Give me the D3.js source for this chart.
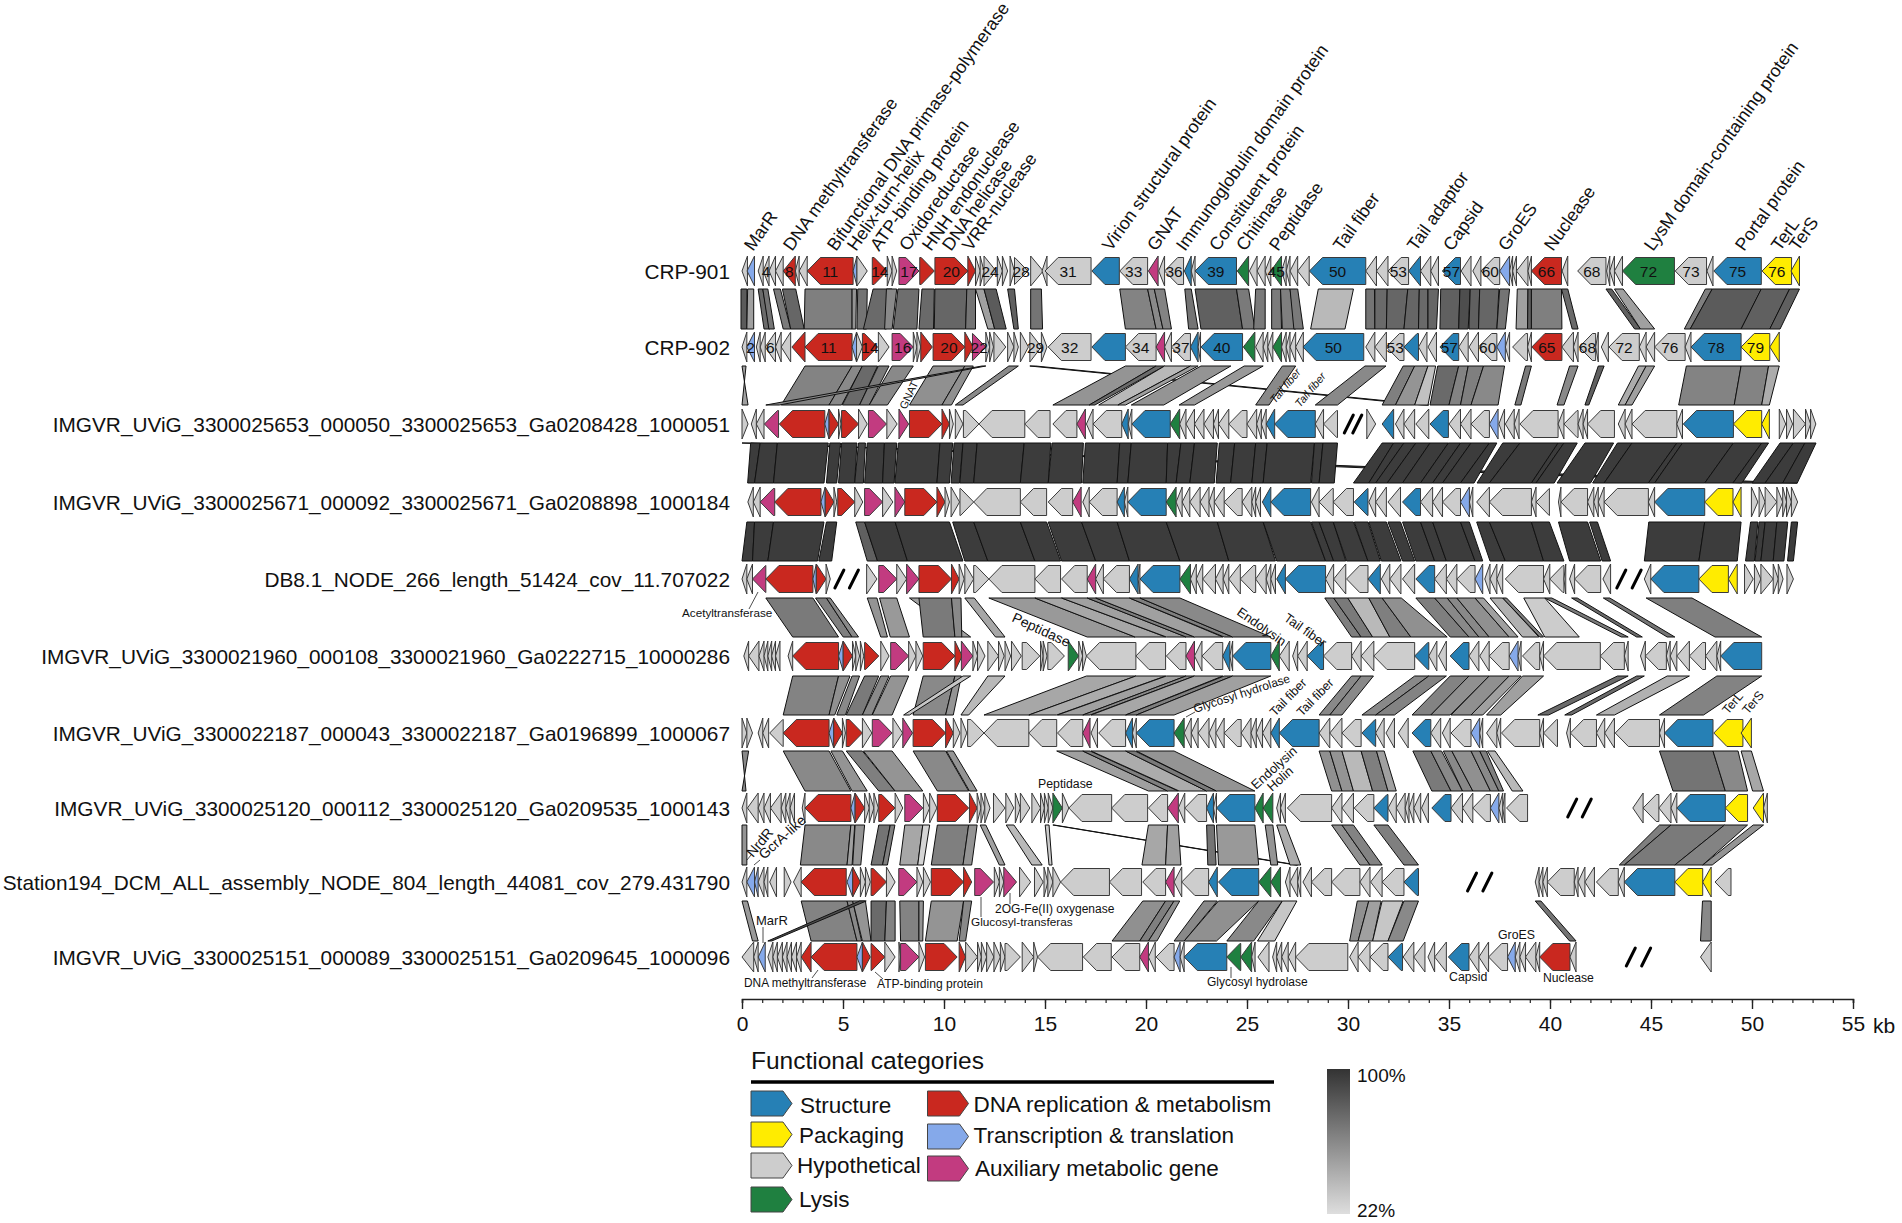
<!DOCTYPE html>
<html>
<head>
<meta charset="utf-8">
<script src="https://cdnjs.cloudflare.com/ajax/libs/d3/7.8.5/d3.min.js"></script>
<style>
  html, body { margin: 0; background: #fff; }
  text { font-family: "Liberation Sans", Arial, sans-serif; fill: #111; }
</style>
</head>
<body>
<svg id="chart" width="1902" height="1223"></svg>
<script>
// Genome comparison: gene arrows per genome + identity ribbons between neighbours
// Gene = [tail kb, tip kb, category, number]; tip < tail points left

const h = 'h', b = 'b', y = 'y', g = 'g', r = 'r', l = 'l', m = 'm';

const rowNames = ['CRP-901', 'CRP-902',
  'IMGVR_UViG_3300025653_000050_3300025653_Ga0208428_1000051',
  'IMGVR_UViG_3300025671_000092_3300025671_Ga0208898_1000184',
  'DB8.1_NODE_266_length_51424_cov_11.707022',
  'IMGVR_UViG_3300021960_000108_3300021960_Ga0222715_10000286',
  'IMGVR_UViG_3300022187_000043_3300022187_Ga0196899_1000067',
  'IMGVR_UViG_3300025120_000112_3300025120_Ga0209535_1000143',
  'Station194_DCM_ALL_assembly_NODE_804_length_44081_cov_279.431790',
  'IMGVR_UViG_3300025151_000089_3300025151_Ga0209645_1000096'];

const genes1 = [[.27,0,h],[.62,.25,l],[1.05,.8,h],[1.34,1.05,h,'4'],[1.66,1.34,h],[2.04,1.66,h],[2.64,2.04,r,'8'],[2.83,2.64,h],[3.23,2.83,h],[5.5,3.23,r,'11'],[5.69,5.5,l],[5.69,6.2,h],[6.45,7.19,r,'14'],[7.19,7.43,h],[7.43,7.66,h],[7.77,8.76,m,'17'],[8.8,9.52,r],[9.55,11.18,r,'20'],[11.18,11.56,r],[11.56,11.79,h],[11.79,11.98,h],[11.98,12.58,h,'24'],[12.64,12.89,h],[12.89,13.15,h],[13.27,13.49,h],[13.49,14.15,h,'28'],[14.29,14.91,h],[15.1,14.85,h],[17.28,15.0,h,'31'],[18.68,17.32,b],[20.08,18.7,h,'33'],[20.6,20.12,m],[20.92,20.63,h],[21.86,20.92,h,'36'],[22.24,21.9,b],[22.43,22.24,h],[24.48,22.43,b,'39'],[25.08,24.52,g],[25.5,25.12,h],[25.9,25.5,h],[26.18,25.9,h],[26.71,26.18,g,'45'],[26.94,26.71,h],[27.13,26.94,h],[27.51,27.13,h],[28.08,27.51,h],[30.88,28.09,b,'50'],[31.41,30.88,h],[31.98,31.41,h],[33.0,31.98,h,'53'],[33.59,33.0,b],[34.1,33.59,h],[34.48,34.1,h],[35.57,34.67,b,'57'],[36.09,35.6,h],[36.58,36.18,h],[37.51,36.58,h,'60'],[38.0,37.51,l],[38.15,38.0,h],[38.34,38.15,h],[38.91,38.34,h],[39.08,38.91,h],[40.57,39.08,r,'66'],[40.88,40.6,h],[42.77,41.37,h,'68'],[42.96,42.8,h],[43.19,42.96,h],[43.59,43.19,h],[46.16,43.59,g,'72'],[47.75,46.2,h,'73'],[48.07,47.77,h],[50.46,48.11,b,'75'],[51.96,50.5,y,'76'],[52.35,51.93,y]];

const genes2 = [[.24,0,h],[.62,.24,l,'2'],[.9,.71,h],[1.15,.9,h],[1.66,1.15,h,'6'],[1.94,1.66,h],[2.41,1.94,h],[3.12,2.47,r],[5.45,3.12,r,'11'],[5.67,5.45,l],[5.67,5.96,h],[5.96,6.71,r,'14'],[6.75,7.28,h],[7.43,8.48,m,'16'],[8.48,8.66,h],[8.66,8.85,h],[8.85,9.42,r],[9.46,11.03,r,'20'],[11.03,11.45,r],[11.41,12.07,m,'22'],[12.07,12.26,h],[12.26,12.45,h],[12.47,13.06,h],[13.15,13.46,h],[13.46,13.68,h],[13.78,14.18,h],[14.25,14.82,h,'29'],[14.82,15.1,h],[17.28,15.16,h,'32'],[18.98,17.32,b],[20.5,18.98,h,'34'],[20.92,20.5,m],[21.26,20.92,h],[22.2,21.26,h,'37'],[22.58,22.2,b],[22.7,22.58,h],[24.78,22.72,b,'40'],[25.39,24.82,g],[25.8,25.43,h],[26.03,25.8,h],[26.28,26.03,h],[26.71,26.28,g],[26.94,26.71,h],[27.13,26.94,h],[27.41,27.13,h],[27.79,27.41,h],[30.78,27.77,b,'50'],[31.33,30.88,h],[31.9,31.33,h],[32.77,31.9,h,'53'],[33.49,32.77,b],[33.91,33.49,h],[34.38,33.96,h],[35.48,34.55,b,'57'],[35.95,35.48,h],[36.46,35.99,h],[37.37,36.46,h,'60'],[37.79,37.37,l],[38.0,37.79,h],[38.89,38.15,h],[39.08,38.89,h],[40.59,39.1,r,'65'],[41.16,40.59,h],[41.39,41.16,h],[42.26,41.45,h,'68'],[42.39,42.26,h],[42.89,42.54,h],[44.42,42.92,h,'72'],[44.76,44.42,h],[45.18,44.76,h],[46.69,45.18,h,'76'],[46.98,46.69,h],[49.46,46.98,b,'78'],[50.88,49.46,y,'79'],[51.35,50.88,y]];

const genes3 = [[0,.3,h],[.71,.46,h],[1.09,.71,h],[1.81,1.11,m],[4.1,1.85,r],[4.31,4.1,l],[4.31,4.78,r],[4.78,4.9,h],[4.93,5.77,r],[5.77,6.2,h],[6.26,7.15,m],[7.17,7.68,h],[7.77,8.25,m],[8.29,9.9,r],[9.9,10.27,r],[10.27,10.46,h],[10.56,10.94,h],[10.96,11.73,h],[14.0,11.73,h],[15.25,14.0,h],[16.58,15.39,h],[17.0,16.58,m],[17.38,17.05,h],[18.8,17.38,h],[19.12,18.8,b],[19.3,19.12,h],[21.2,19.3,b],[21.67,21.2,g],[21.98,21.67,h],[22.4,21.98,h],[22.87,22.4,h],[23.34,22.87,h],[23.59,23.34,h],[24.1,23.59,h],[25.0,24.1,h],[25.48,25.0,h],[25.71,25.48,h],[25.95,25.71,h],[26.37,25.95,b],[28.38,26.37,b],[28.79,28.38,h],[29.48,28.79,h],[30.93,31.37,h],[32.26,31.69,b],[32.77,32.35,h],[33.3,32.77,h],[34.0,33.36,h],[34.97,34.06,b],[35.57,35.0,h],[36.09,35.57,h],[37.0,36.09,h],[37.43,37.0,l],[37.75,37.47,h],[38.23,37.79,h],[38.47,38.23,h],[40.4,38.51,h],[40.69,40.4,h],[41.39,40.69,h],[41.64,41.39,h],[41.86,41.64,h],[43.19,41.86,h],[43.72,43.38,h],[44.06,43.72,h],[46.28,44.06,h],[46.56,46.28,h],[49.08,46.6,b],[50.48,49.08,y],[50.86,50.48,y],[51.35,51.67,h],[51.71,52.01,h],[52.05,52.65,h],[52.65,52.9,h],[52.9,53.16,h]];

const genes4 = [[.56,.29,h],[.9,.56,h],[1.62,.9,m],[3.91,1.62,r],[4.12,3.91,l],[4.12,4.55,r],[4.55,4.69,h],[4.74,5.58,r],[5.58,5.98,h],[6.07,6.96,m],[6.96,7.47,h],[7.57,8.06,m],[8.06,9.65,r],[9.65,10.05,r],[10.05,10.27,h],[10.35,10.77,h],[10.79,11.47,h],[13.78,11.47,h],[15.08,13.78,h],[16.37,15.16,h],[16.79,16.37,m],[17.19,16.87,h],[18.57,17.19,h],[18.93,18.57,b],[19.1,18.93,h],[21.0,19.1,b],[21.49,21.0,g],[21.79,21.49,h],[22.17,21.79,h],[22.68,22.17,h],[23.12,22.68,h],[23.38,23.12,h],[23.87,23.38,h],[24.76,23.87,h],[25.24,24.76,h],[25.43,25.24,h],[25.67,25.43,h],[26.18,25.76,b],[28.15,26.18,b],[28.57,28.19,h],[29.27,28.57,h],[30.27,29.27,h],[30.99,30.31,b],[31.37,31.03,h],[31.9,31.37,h],[32.6,31.98,h],[33.59,32.7,b],[34.19,33.59,h],[34.68,34.19,h],[35.57,34.68,h],[36.01,35.57,l],[36.18,36.01,h],[37.0,36.37,h],[39.08,37.0,h],[39.31,39.08,h],[39.97,39.31,h],[40.54,40.42,h],[41.86,40.54,h],[42.17,41.86,h],[42.39,42.17,h],[42.68,42.39,h],[44.87,42.68,h],[45.18,44.87,h],[47.66,45.18,b],[49.06,47.66,y],[49.46,49.06,y],[49.97,50.29,h],[50.35,50.65,h],[50.65,51.23,h],[51.23,51.52,h],[51.52,51.71,h],[51.71,51.95,h],[51.95,52.26,h]];

const genes5 = [[.24,0,h],[.52,.24,h],[1.18,.52,m],[3.51,1.18,r],[3.68,3.51,l],[3.68,4.16,r],[4.16,4.37,h],[6.17,6.68,h],[6.77,7.66,m],[7.66,8.15,h],[8.15,8.76,m],[8.76,10.37,r],[10.37,10.75,r],[10.75,11.0,h],[11.03,11.47,h],[11.47,12.22,h],[14.5,12.22,h],[15.77,14.5,h],[17.09,15.82,h],[17.51,17.09,m],[17.89,17.51,h],[19.18,17.89,h],[19.61,19.18,b],[19.7,19.61,h],[21.68,19.7,b],[22.2,21.68,g],[22.49,22.2,h],[22.81,22.49,h],[23.44,22.81,h],[23.82,23.44,h],[24.1,23.82,h],[24.67,24.1,h],[25.43,24.67,h],[25.95,25.43,h],[26.18,25.95,h],[26.41,26.18,h],[26.9,26.47,b],[28.89,26.9,b],[29.29,28.89,h],[29.89,29.29,h],[30.99,29.93,h],[31.6,30.99,b],[32.07,31.65,h],[32.62,32.07,h],[33.3,32.7,h],[34.29,33.36,b],[34.87,34.29,h],[35.39,34.87,h],[36.29,35.39,h],[36.67,36.29,l],[37.03,36.77,h],[37.37,37.03,h],[37.66,37.37,h],[39.68,37.79,h],[39.99,39.68,h],[40.69,39.99,h],[40.78,40.69,h],[41.22,40.97,h],[42.51,41.22,h],[43.0,42.62,h],[44.99,44.67,h],[47.37,44.99,b],[48.83,47.37,y],[49.27,48.83,y],[49.63,50.06,h],[50.12,50.44,h],[50.44,51.05,h],[51.05,51.3,h],[51.3,51.54,h],[51.73,52.05,h]];

const genes6 = [[.33,.09,h],[.84,.33,h],[1.09,.84,h],[1.28,1.09,h],[1.47,1.28,h],[1.66,1.47,h],[1.88,1.66,h],[2.51,2.28,h],[4.78,2.51,r],[5.01,4.78,l],[5.01,5.47,r],[5.47,5.63,h],[5.63,5.82,h],[5.86,6.03,h],[6.07,6.77,r],[6.87,7.28,h],[7.36,8.25,m],[8.25,8.61,h],[8.61,8.95,h],[8.97,10.54,r],[10.54,10.9,r],[10.86,11.43,m],[11.43,11.66,h],[11.66,12.03,h],[12.17,12.7,h],[12.7,12.98,h],[13.02,13.3,h],[13.34,13.83,h],[13.87,14.74,h],[14.78,14.91,h],[14.91,15.1,h],[15.14,15.96,h],[16.15,16.67,g],[16.67,16.86,h],[16.86,17.05,h],[19.5,17.05,h],[20.97,19.5,h],[21.98,21.01,h],[22.4,21.98,m],[22.77,22.4,h],[23.8,22.77,h],[24.15,23.8,b],[24.29,24.15,h],[26.18,24.29,b],[26.6,26.18,g],[27.09,26.6,h],[27.51,27.26,h],[27.98,27.51,h],[28.79,27.98,b],[30.18,28.79,h],[30.65,30.18,h],[31.28,30.65,h],[33.3,31.28,h],[34.0,33.3,b],[34.4,34.0,h],[34.87,34.48,h],[35.99,35.06,b],[36.48,35.99,h],[36.99,36.52,h],[37.98,36.99,h],[38.42,37.98,l],[38.57,38.42,h],[39.49,38.64,h],[39.68,39.49,h],[42.49,39.68,h],[43.68,42.49,h],[43.87,43.68,h],[44.72,44.48,h],[45.76,44.72,h],[45.95,45.76,h],[46.28,45.95,h],[46.9,46.28,h],[47.7,46.9,h],[48.26,47.7,h],[48.45,48.26,h],[50.48,48.45,b]];

const genes7 = [[0,.24,h],[.24,.52,h],[1.03,.8,h],[1.32,1.03,h],[2.04,1.37,h],[4.31,2.04,r],[4.54,4.31,l],[4.54,4.97,r],[4.97,5.12,h],[5.16,5.96,r],[5.96,6.43,h],[6.45,7.43,m],[7.47,7.95,h],[7.96,8.44,m],[8.47,10.08,r],[10.08,10.46,r],[10.46,10.79,h],[10.84,11.13,h],[11.17,11.98,h],[14.2,11.98,h],[15.58,14.2,h],[16.87,15.62,h],[17.23,16.87,m],[17.6,17.28,h],[18.99,17.66,h],[19.33,18.99,b],[19.52,19.33,h],[21.39,19.52,b],[21.89,21.39,g],[22.24,21.89,h],[22.58,22.24,h],[23.12,22.58,h],[23.46,23.12,h],[23.87,23.46,h],[24.71,23.87,h],[25.2,24.71,h],[25.46,25.2,h],[25.77,25.46,h],[26.18,25.77,h],[26.6,26.18,b],[28.57,26.6,b],[29.1,28.57,h],[29.7,29.1,h],[30.65,29.7,h],[31.37,30.69,b],[31.79,31.37,h],[32.3,31.88,h],[32.98,32.49,h],[34.1,33.17,b],[34.59,34.1,h],[35.06,34.67,h],[36.09,35.1,h],[36.52,36.09,l],[36.67,36.52,h],[37.37,36.86,h],[37.56,37.37,h],[39.49,37.6,h],[39.68,39.49,h],[40.37,39.68,h],[41.01,40.82,h],[42.3,41.01,h],[42.71,42.3,h],[43.19,42.71,h],[45.42,43.23,h],[45.67,45.42,h],[48.07,45.67,b],[49.55,48.11,y],[49.97,49.46,y]];

const genes8 = [[.24,0,h],[.8,.27,h],[1.09,.8,h],[1.41,1.09,h],[1.94,1.41,h],[2.17,1.94,h],[2.38,2.17,h],[2.6,2.38,h],[3.12,2.98,h],[5.39,3.12,r],[5.6,5.39,l],[5.6,6.07,r],[6.07,6.3,h],[6.3,6.53,h],[6.53,6.75,h],[6.77,7.57,r],[7.58,7.96,h],[8.06,8.95,m],[8.98,9.29,h],[9.29,9.65,h],[9.67,11.22,r],[11.26,11.64,r],[11.64,11.83,h],[11.83,12.02,h],[12.02,12.28,h],[12.45,13.02,h],[13.06,13.46,h],[13.53,13.78,h],[13.78,14.25,h],[14.35,14.78,h],[14.78,14.97,h],[14.97,15.16,h],[15.16,15.39,h],[15.39,15.86,g],[15.86,16.18,h],[18.3,16.18,h],[20.08,18.3,h],[21.07,20.12,h],[21.6,21.07,m],[21.92,21.6,h],[23.0,21.92,h],[23.34,23.0,b],[23.49,23.34,h],[25.39,23.49,b],[25.8,25.39,g],[26.28,25.8,g],[26.66,26.47,h],[26.9,26.66,h],[29.19,27.0,h],[29.7,29.19,h],[30.27,29.7,h],[31.28,30.31,h],[31.98,31.28,b],[32.39,31.98,h],[32.83,32.39,h],[33.02,32.83,h],[33.26,33.02,h],[33.6,33.26,h],[33.98,33.64,h],[35.1,34.15,b],[35.67,35.1,h],[36.18,35.67,h],[37.05,36.18,h],[37.47,37.05,l],[37.66,37.47,h],[37.77,37.66,h],[38.89,37.85,h],[44.61,44.1,h],[45.39,44.61,h],[45.99,45.39,h],[46.28,45.99,h],[48.68,46.28,b],[49.78,48.68,y],[50.57,50.06,y],[50.76,50.57,h]];

const genes9 = [[.24,0,h],[.62,.24,l],[.8,.62,l],[1.09,.8,h],[1.28,1.09,h],[1.71,1.37,h],[2.09,2.43,h],[2.93,2.55,h],[5.16,2.93,r],[5.48,5.2,l],[5.48,5.86,r],[5.86,6.11,h],[6.11,6.35,h],[6.39,7.15,r],[7.15,7.58,h],[7.76,8.66,m],[8.66,8.95,h],[8.98,9.33,h],[9.37,10.97,r],[10.97,11.37,r],[11.52,12.45,m],[12.49,12.74,h],[12.74,12.96,h],[12.96,13.59,m],[13.74,14.29,h],[14.48,14.91,h],[14.95,15.14,h],[15.14,15.39,h],[15.39,15.77,h],[18.19,15.77,h],[19.78,18.19,h],[20.97,19.84,h],[21.39,20.97,m],[21.77,21.39,h],[23.1,21.77,h],[23.53,23.1,b],[25.58,23.59,b],[26.18,25.58,g],[26.66,26.18,g],[27.13,26.9,h],[27.51,27.13,h],[27.66,27.51,h],[28.19,27.77,h],[29.19,28.19,h],[30.59,29.19,h],[31.09,30.59,h],[31.69,31.12,h],[32.77,31.69,h],[33.49,32.77,b],[39.46,39.27,h],[39.65,39.46,h],[39.87,39.65,h],[41.2,39.87,h],[41.39,41.2,h],[41.73,41.39,h],[42.2,41.73,h],[43.38,42.3,h],[43.68,43.38,h],[46.18,43.68,b],[47.56,46.18,y],[47.98,47.56,y],[48.96,48.17,h]];

const genes10 = [[.58,0,h],[.8,.58,h],[1.15,.8,l],[1.53,1.28,h],[1.75,1.53,h],[2.0,1.75,h],[2.23,2.0,h],[2.45,2.23,h],[2.7,2.45,h],[2.93,2.7,h],[3.42,2.93,r],[5.69,3.42,r],[5.96,5.69,l],[5.96,6.35,r],[6.39,7.07,r],[7.07,7.58,h],[7.77,7.85,h],[7.85,8.76,m],[8.76,9.04,h],[9.08,10.65,r],[10.75,11.07,r],[11.07,11.66,h],[11.66,11.85,h],[11.85,12.11,h],[12.11,12.47,h],[12.47,12.79,h],[12.79,13.02,h],[13.02,13.78,h],[13.87,14.44,h],[14.44,14.63,h],[16.86,14.63,h],[18.28,16.9,h],[19.69,18.32,h],[20.12,19.69,m],[20.46,20.12,h],[21.39,20.5,h],[21.69,21.39,l],[21.89,21.69,h],[24.0,21.89,b],[24.69,24.0,g],[25.23,24.69,g],[25.4,25.23,h],[26.09,25.54,h],[26.47,26.27,h],[26.72,26.47,h],[27.04,26.72,h],[27.41,27.04,h],[29.99,27.41,h],[30.5,30.08,h],[31.09,30.5,h],[31.98,31.09,h],[32.7,31.98,b],[33.26,32.73,h],[33.81,33.26,h],[34.29,33.96,h],[34.87,34.29,h],[35.99,34.97,b],[36.48,35.99,h],[36.96,36.48,h],[37.9,36.96,h],[38.28,37.9,l],[38.51,38.28,h],[38.79,38.51,h],[39.3,38.79,h],[39.49,39.3,h],[40.99,39.49,r],[41.29,40.99,h],[47.98,47.45,h]];

const rowGenes = [genes1, genes2, genes3, genes4, genes5, genes6, genes7, genes8, genes9, genes10];

// contig gaps (kb) drawn as slashes, per row
const rowBreaks = [[], [], [30.04,30.46], [], [4.82,5.54,43.53,44.29], [], [], [41.1,41.82], [36.14,36.9], [44.0,44.76]];

// Ribbon = [top start, top end, bottom start, bottom end, identity %]
const links12 = [[-.05,.24,-.05,.24,78],[.28,.58,.24,.58,45],[.8,1.03,1.09,1.37,70],[1.03,1.28,1.33,1.6,65],[1.56,1.9,2.04,2.41,62],[2.0,2.66,2.41,3.08,72],[3.12,5.45,3.08,5.45,60],[5.45,5.67,5.45,5.63,50],[5.73,6.2,5.69,6.17,65],[6.49,7.43,6.01,7.15,70],[7.15,7.66,7.06,7.43,55],[7.72,8.76,7.49,8.66,68],[8.91,9.52,8.76,9.48,70],[9.55,11.13,9.52,11.07,72],[11.13,11.56,11.07,11.56,65],[11.56,11.98,12.17,12.51,45],[11.98,12.58,12.51,13.08,78],[13.15,13.49,13.46,13.68,75],[14.29,14.82,14.29,14.88,65],[18.7,20.08,18.98,20.5,58],[20.08,20.41,20.5,20.84,55],[20.41,20.92,20.84,21.26,58],[21.92,22.24,22.11,22.58,65],[22.43,24.48,22.72,24.78,75],[24.48,25.08,24.78,25.39,62],[25.43,25.9,25.33,25.9,62],[26.22,26.66,26.22,26.71,62],[26.66,27.13,26.75,27.41,60],[27.13,27.51,27.32,27.79,62],[28.53,30.27,28.15,29.85,35],[30.88,31.31,30.88,31.33,65],[31.33,31.94,31.33,31.9,70],[31.94,32.96,31.9,32.77,72],[32.96,33.53,32.77,33.49,72],[33.53,33.96,33.49,33.96,70],[33.96,34.48,33.96,34.38,72],[34.59,35.54,34.55,35.48,75],[35.54,36.05,35.48,35.95,85],[36.05,36.52,35.99,36.46,75],[36.52,37.47,36.46,37.37,72],[37.51,38.0,37.37,37.79,65],[38.38,38.91,38.32,38.89,45],[38.91,39.08,38.89,39.08,75],[39.08,40.57,39.08,40.59,60],[40.57,40.88,41.1,41.39,70],[42.77,43.05,44.19,44.48,75],[43.19,43.62,44.48,45.18,45],[47.69,48.03,46.65,46.94,60],[48.03,50.46,46.94,49.46,78],[50.46,51.86,49.46,50.88,75],[51.86,52.35,50.88,51.39,75]];

const links23 = [[0,.2,.3,0,45],[3.12,5.45,1.94,4.31,58],[5.45,5.96,4.31,4.93,55],[5.96,6.71,4.97,5.82,70],[6.75,7.28,5.82,6.3,62],[7.43,8.48,6.3,7.2,55],[9.46,11.03,8.29,9.9,52],[11.03,11.45,9.9,10.37,52],[11.88,12.07,1.18,1.85,55],[13.21,13.68,10.56,10.94,55],[14.25,14.54,33.68,34.0,75],[18.98,20.5,15.39,17.19,50],[20.5,20.92,17.19,17.47,70],[20.92,22.2,17.66,18.61,35],[22.2,22.58,18.61,18.99,45],[22.72,24.2,19.27,20.88,50],[24.86,25.8,21.64,22.4,48],[26.75,27.41,25.43,26.09,55],[30.84,31.88,28.38,29.48,55],[32.73,33.3,31.69,32.35,60],[33.3,33.96,32.35,33.3,50],[33.96,34.34,33.3,33.96,32],[34.44,35.48,34.06,35.0,70],[35.48,35.95,35.0,35.57,58],[35.95,36.71,35.57,36.09,60],[36.71,37.75,36.09,37.43,55],[38.79,39.08,38.26,38.56,62],[40.97,41.39,40.35,40.69,55],[42.39,42.68,41.73,41.92,75],[44.38,44.76,43.38,43.72,40],[44.76,45.18,43.72,44.06,45],[46.75,49.46,46.37,49.12,58],[49.46,50.82,49.12,50.48,58],[50.82,51.35,50.48,50.86,40]];

const links34 = [[0,.43,49.6,52.24,95],[.43,.9,.28,.62,95],[.9,1.75,.62,1.56,95],[1.75,4.27,1.56,4.06,95],[4.35,4.88,4.18,4.69,95],[4.93,5.69,4.78,5.58,95],[5.77,6.11,5.58,6.01,90],[6.2,7.05,6.07,6.96,95],[7.05,7.66,6.96,7.53,95],[7.74,9.8,7.57,9.65,95],[9.8,10.43,9.65,10.27,95],[10.5,10.94,10.35,10.77,95],[10.94,11.64,10.79,11.47,95],[11.64,13.97,11.47,13.78,95],[13.97,15.29,13.78,15.16,95],[15.35,16.9,15.16,16.81,95],[17.0,18.7,16.87,18.57,95],[18.7,19.27,18.57,19.1,95],[19.27,21.07,19.1,21.0,95],[21.07,21.73,21.0,21.49,95],[21.73,22.4,21.49,22.17,95],[22.4,23.53,22.17,23.38,95],[23.63,24.39,23.47,24.19,95],[24.39,25.43,24.19,25.24,95],[25.43,26.0,25.24,25.8,95],[26.0,28.34,25.8,28.15,95],[28.34,28.76,28.19,28.57,95],[28.76,29.48,28.57,29.32,95],[31.69,32.26,30.27,31.03,95],[32.26,32.77,31.03,31.37,95],[32.77,33.36,31.37,31.94,95],[33.36,34.06,31.94,32.7,95],[34.06,34.97,32.7,33.59,95],[34.97,35.57,33.59,34.19,95],[35.57,36.09,34.19,34.68,95],[36.09,37.0,34.68,35.57,95],[37.0,37.37,35.57,36.24,95],[37.66,38.51,36.39,37.0,95],[38.51,40.4,37.0,39.08,95],[40.4,40.69,39.08,39.31,95],[40.69,41.35,39.31,40.21,95],[41.73,43.15,40.35,42.01,95],[43.34,44.06,42.11,42.68,95],[44.06,46.28,42.68,44.87,95],[46.28,46.56,44.87,45.18,95],[46.56,49.08,45.18,47.66,95],[49.08,50.48,47.66,49.06,95],[50.48,50.82,49.06,49.5,95],[51.39,52.05,50.01,50.65,95],[52.05,52.62,50.65,51.52,95],[52.62,53.17,51.52,52.24,95]];

const links45 = [[.24,.62,0,.52,95],[.62,1.56,.52,1.28,95],[1.56,4.06,1.28,3.74,95],[4.18,4.69,3.8,4.44,95],[5.63,6.07,6.2,6.71,75],[6.07,7.58,6.71,8.19,95],[7.58,10.27,8.19,10.94,95],[10.43,11.47,11.03,12.17,95],[11.47,13.78,12.17,14.5,95],[13.78,15.08,14.5,15.77,95],[15.16,16.81,15.82,17.51,95],[16.81,18.57,17.51,19.18,95],[18.57,21.0,19.18,21.68,95],[21.0,23.53,21.68,24.1,95],[23.53,25.8,24.1,26.41,95],[25.8,28.15,26.47,28.89,95],[28.19,28.57,28.89,29.29,95],[28.57,29.27,29.29,29.89,95],[29.27,30.27,29.93,30.99,95],[30.31,30.99,30.99,31.6,95],[31.03,31.9,31.65,32.62,95],[31.98,32.6,32.7,33.3,95],[32.7,33.59,33.36,34.29,95],[33.59,34.19,34.29,34.87,95],[34.19,35.57,34.87,36.29,95],[35.57,36.01,36.29,36.67,95],[36.37,37.0,37.03,37.79,95],[37.0,39.08,37.79,39.68,95],[39.08,39.97,39.68,40.69,95],[40.42,41.86,40.97,42.51,95],[41.96,42.35,42.58,43.0,95],[44.89,47.66,44.67,47.37,95],[47.66,49.46,47.37,49.27,95],[49.93,50.29,49.68,50.12,95],[50.35,50.65,50.15,50.44,95],[50.65,51.23,50.44,51.05,95],[51.23,51.77,51.05,51.58,95],[51.95,52.26,51.76,52.05,95]];

const links56 = [[1.18,3.51,2.51,4.78,62],[3.64,4.18,5.01,5.45,60],[4.18,4.37,5.45,5.77,55],[6.2,6.68,6.87,7.2,50],[6.81,7.66,7.34,8.29,48],[8.29,8.76,10.88,11.32,45],[8.76,10.37,8.97,10.54,62],[10.37,10.84,10.54,10.88,55],[11.03,11.5,12.55,13.02,42],[12.22,14.5,17.09,19.46,48],[14.5,15.82,19.46,20.97,42],[15.82,17.09,21.01,21.98,45],[17.09,17.51,21.98,22.4,60],[17.51,19.18,22.4,23.8,45],[19.18,19.7,23.87,24.29,60],[19.7,21.68,24.29,26.18,55],[28.85,29.29,30.18,30.65,60],[29.29,29.99,30.65,31.22,62],[29.99,31.03,31.22,32.07,35],[31.03,31.69,32.07,33.11,60],[31.69,32.64,33.11,34.91,52],[33.36,34.29,35.06,35.99,60],[34.29,34.91,35.99,36.48,55],[34.91,35.39,36.48,36.99,55],[35.39,36.29,36.99,37.98,52],[36.29,36.71,37.98,38.42,45],[37.03,37.66,38.64,39.45,38],[37.66,37.85,39.49,39.68,60],[38.7,39.74,39.74,41.45,28],[39.74,40.09,43.53,43.87,62],[41.07,41.35,44.29,44.57,70],[42.64,42.96,45.8,46.18,65],[44.76,47.03,48.17,50.48,60]];

const links67 = [[2.51,4.78,2.04,4.31,58],[4.78,5.35,4.31,4.59,52],[5.45,5.82,4.69,5.12,55],[6.07,6.77,5.16,5.96,62],[6.87,7.28,5.96,6.43,55],[7.36,8.25,6.45,7.43,50],[8.97,10.54,8.47,10.08,55],[10.54,10.86,10.08,10.46,50],[10.94,11.32,8.0,8.29,30],[12.17,13.02,10.84,11.22,35],[17.05,19.5,11.98,14.2,42],[19.5,20.97,14.2,15.58,40],[21.01,21.98,15.62,16.87,45],[21.98,22.4,16.87,17.23,55],[22.4,23.8,17.28,18.99,42],[23.87,24.29,18.99,19.52,60],[24.29,26.18,19.52,21.39,45],[30.18,30.65,28.57,29.1,55],[30.65,31.26,29.1,29.7,55],[33.3,34.0,30.69,31.37,55],[34.0,34.87,31.37,32.3,58],[35.06,35.99,33.17,34.1,58],[35.99,36.99,34.1,35.06,52],[36.99,37.98,35.1,36.09,52],[37.98,38.57,36.09,36.67,45],[38.64,39.68,36.86,37.56,45],[43.34,43.87,39.4,39.93,70],[44.29,44.67,40.73,41.07,70],[45.8,46.9,42.3,43.19,38],[48.26,50.48,45.42,47.6,58]];

const links78 = [[0,.33,.2,0,55],[2.04,4.31,3.12,5.39,55],[4.4,4.97,5.45,6.2,50],[5.16,5.96,6.77,7.57,60],[6.01,7.43,7.58,8.95,50],[8.47,10.08,9.67,11.22,55],[10.12,10.46,11.26,11.64,50],[15.58,16.87,20.12,21.07,45],[16.87,17.23,21.07,21.6,60],[17.28,18.99,21.64,23.0,40],[18.99,19.46,23.0,23.49,62],[19.52,21.39,23.49,25.39,50],[28.57,29.1,29.19,29.7,52],[29.1,29.7,29.7,30.27,50],[29.7,30.65,30.27,31.22,35],[30.65,31.41,31.22,31.98,60],[31.41,31.79,31.98,32.39,45],[33.21,34.1,34.15,35.1,62],[34.1,34.63,35.1,35.67,55],[34.72,35.14,35.67,36.18,55],[35.14,36.09,36.18,37.05,52],[36.09,36.52,37.05,37.47,55],[36.52,36.84,37.47,37.7,60],[36.9,37.28,38.13,38.66,35],[45.42,48.07,46.09,48.68,65],[48.07,49.31,48.68,49.78,55],[49.46,49.97,50.03,50.57,42]];

const links89 = [[0,.24,0,.24,50],[3.12,5.39,2.89,5.2,55],[5.39,5.58,5.2,5.45,45],[5.6,6.07,5.48,5.88,50],[6.77,7.34,6.39,6.96,65],[7.34,7.57,6.96,7.2,60],[8.06,8.95,7.81,8.7,42],[8.95,9.29,8.7,8.98,25],[9.67,11.22,9.37,10.94,60],[11.22,11.64,10.94,11.37,50],[11.79,12.07,12.74,13.02,45],[13.08,13.46,14.35,14.86,35],[15.01,15.2,15.2,15.35,28],[15.39,15.45,27.4,27.5,85],[20.12,21.07,19.8,20.97,42],[21.07,21.6,20.97,21.73,45],[23.0,23.38,23.06,23.47,65],[23.49,25.39,23.59,25.58,48],[25.9,26.28,26.18,26.52,50],[26.47,26.9,27.13,27.66,40],[29.19,29.7,30.59,31.09,52],[29.7,30.27,31.09,31.69,58],[31.28,31.98,32.77,33.49,60],[45.42,45.99,43.43,43.68,60],[45.99,48.64,43.68,46.18,62],[48.64,49.78,46.18,47.56,58],[50.06,50.57,47.56,48.03,50]];

const links910 = [[0,.27,.52,.8,48],[2.93,5.2,3.42,5.69,58],[5.2,5.48,5.69,5.92,55],[5.48,6.11,5.96,6.39,50],[5.82,6.15,1.28,1.47,85],[6.39,7.15,6.39,7.07,70],[7.15,7.58,7.07,7.58,58],[7.81,8.76,7.85,8.76,58],[8.76,8.98,8.76,8.95,50],[9.37,10.97,9.08,10.65,50],[10.97,11.37,10.75,11.07,55],[19.84,20.97,18.32,19.69,52],[20.97,21.39,19.69,20.12,60],[21.39,21.67,20.12,20.54,52],[22.87,23.53,21.39,21.89,55],[23.59,25.58,21.89,23.49,52],[25.58,26.75,24.0,25.33,55],[26.75,27.47,25.52,26.37,30],[30.46,31.03,30.08,30.5,52],[31.03,31.64,30.5,31.22,45],[31.69,32.73,31.22,31.98,30],[32.77,33.49,31.98,32.73,55],[39.27,39.55,40.97,41.29,65],[47.55,47.98,47.45,47.98,55]];

const rowLinks = [links12, links23, links34, links45, links56, links67, links78, links89, links910];

const topLabels = ['MarR','DNA methyltransferase','Bifunctional DNA primase-polymerase','Helix-turn-helix','ATP-binding protein','Oxidoreductase','HNH endonuclease','DNA helicase','VRR-nuclease','Virion structural protein','GNAT','Immunoglobulin domain protein','Constituent protein','Chitinase','Peptidase','Tail fiber','Tail adaptor','Capsid','GroES','Nuclease','LysM domain-containing protein','Portal protein','TerL','TerS'];
const catNames = { b: 'Structure', y: 'Packaging', h: 'Hypothetical', g: 'Lysis', r: 'DNA replication & metabolism', l: 'Transcription & translation', m: 'Auxiliary metabolic gene' };
const catColors = { b: '#2680b5', y: '#ffec00', h: '#cdcdcd', g: '#1f8040', r: '#c9281f', l: '#85a9ea', m: '#c23b80' };

// --- Layout ---
const svg = d3.select('#chart');
const x = d3.scaleLinear().domain([0, 55]).range([742, 1853]);
const rowCenters = [271, 347, 424, 502, 579, 656, 733, 808, 882, 957];
const linkTop = [289, 366, 443, 522, 598, 676, 751, 825, 901];
const linkBot = [329, 405, 483, 561, 637, 715, 791, 865, 941];
const halfH = 13.5, headKb = 0.65;

const shadeEnds = ['#dedede', '#333333'];
const shade = d3.scalePow().exponent(0.6).domain([22, 100]).range(shadeEnds);

// --- Ribbons ---
rowLinks.forEach((links, i) => {
  svg.append('g').selectAll('path').data(links).join('path')
    .attr('d', d => `M${x(d[0])},${linkTop[i]}L${x(d[1])},${linkTop[i]}L${x(d[3])},${linkBot[i]}L${x(d[2])},${linkBot[i]}Z`)
    .attr('fill', d => shade(d[4]))
    .attr('stroke', '#111')
    .attr('stroke-width', 1);
});

// --- Genes ---
function genePath(d, cy) {
  const dir = d[1] >= d[0] ? 1 : -1;
  const tail = x(d[0]), tip = x(d[1]);
  const len = Math.abs(d[1] - d[0]);
  const headPx = x(Math.min(len, headKb)) - x(0);
  const neck = tip - dir * headPx;
  const hh = len <= headKb ? halfH + 1.5 : halfH;
  const pts = neck === tail
    ? [[tail, cy - hh], [tip, cy], [tail, cy + hh]]
    : [[tail, cy - hh], [neck, cy - hh], [tip, cy], [neck, cy + hh], [tail, cy + hh]];
  return d3.line()(pts) + 'Z';
}

rowGenes.forEach((genes, i) => {
  const cy = rowCenters[i];
  const row = svg.append('g');
  row.selectAll('path').data(genes).join('path')
    .attr('d', d => genePath(d, cy))
    .attr('fill', d => catColors[d[2]])
    .attr('stroke', '#3a3a3a')
    .attr('stroke-width', 1)
    .attr('stroke-linejoin', 'miter');
  row.selectAll('text').data(genes.filter(d => d[3])).join('text')
    .attr('x', d => x((d[0] + d[1]) / 2))
    .attr('y', cy + 5.5)
    .attr('text-anchor', 'middle')
    .attr('font-size', 15.5)
    .text(d => d[3]);
  // contig gap marks
  row.selectAll('line').data(rowBreaks[i]).join('line')
    .attr('x1', d => x(d) - 4.5).attr('x2', d => x(d) + 4.5)
    .attr('y1', cy + 9).attr('y2', cy - 9)
    .attr('stroke', '#000').attr('stroke-width', 3).attr('stroke-linecap', 'round');
  svg.append('text')
    .attr('x', 730).attr('y', cy + 7.5)
    .attr('text-anchor', 'end')
    .attr('font-size', 20.8)
    .text(rowNames[i]);
});

// --- Gene labels on top ---
const topAnchor = [753,792,836,856,879,908,931,951,971,1111,1156,1185,1218,1245,1278,1342,1416,1452,1507,1553,1653,1744,1780,1798];
svg.append('g').selectAll('text').data(topLabels).join('text')
  .attr('transform', (d, i) => `translate(${topAnchor[i]},252) rotate(-54.5)`)
  .attr('font-size', 17.8)
  .text(d => d);

// --- Small annotations ---
function note(text, px, py, size, angle, italic) {
  svg.append('text')
    .attr('transform', `translate(${px},${py}) rotate(${angle || 0})`)
    .attr('font-size', size)
    .attr('font-style', italic ? 'italic' : null)
    .text(text);
}
function leader(x1, y1, x2, y2) {
  svg.append('line').attr('x1', x1).attr('y1', y1).attr('x2', x2).attr('y2', y2)
    .attr('stroke', '#222').attr('stroke-width', 0.8);
}
note('GNAT', 906, 410, 11, -65);
note('Tail fiber', 1275, 404, 11, -50, true);
note('Tail fiber', 1300, 408, 11, -50, true);
note('Acetyltransferase', 682, 617, 11.7);
leader(758, 592, 749, 609);
note('Peptidase', 1011, 621, 14, 25);
note('Endolysin', 1236, 614, 13, 35);
note('Tail fiber', 1283, 620, 13, 35);
note('Glycosyl hydrolase', 1195, 713, 12, -18);
leader(1186, 717, 1195, 712);
note('Tail fiber', 1275, 717, 12.5, -46);
note('Tail fiber', 1302, 717, 12.5, -46);
note('TerL', 1728, 715, 12.5, -50);
note('TerS', 1748, 715, 12.5, -50);
note('Peptidase', 1038, 788, 12.3);
note('Endolysin', 1256, 790, 13, -42);
note('Holin', 1272, 792, 13, -42);
note('NrdR', 753, 858, 14, -50);
note('GcrA-like', 764, 860, 14, -42);
leader(747, 860, 751, 855);
leader(754, 865, 760, 860);
note('MarR', 756, 925, 13);
leader(763, 927, 763, 943);
note('2OG-Fe(II) oxygenase', 995, 913, 12);
leader(1010, 893, 1010, 904);
note('Glucosyl-transferas', 971, 926, 11.8);
leader(981, 897, 981, 917);
note('DNA methyltransferase', 744, 987, 11.9);
leader(818, 970, 812, 978);
note('ATP-binding protein', 877, 988, 12.1);
leader(875, 972, 883, 979);
note('Glycosyl hydrolase', 1207, 986, 12);
leader(1231, 967, 1231, 978);
note('Capsid', 1449, 981, 12.3);
note('GroES', 1498, 939, 12.3);
note('Nuclease', 1543, 982, 12.2);

// --- Scale axis ---
const axisY = 999;
svg.append('g').attr('transform', `translate(0,${axisY})`)
  .call(d3.axisBottom(x).tickValues(d3.range(0, 56, 1)).tickSize(4).tickFormat(''))
  .call(s => s.select('.domain').attr('stroke-width', 1.5).attr('stroke', '#222'))
  .call(s => s.selectAll('.tick line').attr('stroke', '#222').attr('stroke-width', 1.2));
svg.append('g').attr('transform', `translate(0,${axisY})`)
  .call(d3.axisBottom(x).tickValues(d3.range(0, 56, 5)).tickSize(10).tickPadding(7))
  .call(s => s.select('.domain').remove())
  .call(s => s.selectAll('.tick line').attr('stroke', '#222').attr('stroke-width', 1.4))
  .call(s => s.selectAll('.tick text').attr('font-size', 21).attr('font-family', '"Liberation Sans", Arial, sans-serif').attr('fill', '#111'));
svg.append('text').attr('x', 1884).attr('y', 1033).attr('text-anchor', 'middle').attr('font-size', 21).text('kb');

// --- Legend ---
svg.append('text').attr('x', 751).attr('y', 1069).attr('font-size', 24.5).text('Functional categories');
svg.append('line').attr('x1', 751).attr('x2', 1274).attr('y1', 1082).attr('y2', 1082).attr('stroke', '#000').attr('stroke-width', 3.5);

const legendItems = [
  ['b', 751, 1091, 800, 1113], ['y', 751, 1122, 799, 1143], ['h', 751, 1153, 797, 1173], ['g', 751, 1187, 799, 1207],
  ['r', 927.5, 1091, 973.5, 1112], ['l', 927.5, 1124, 973.5, 1143], ['m', 927.5, 1156, 975, 1176]
];
const legend = svg.append('g');
legend.selectAll('path').data(legendItems).join('path')
  .attr('d', d => {
    const [px, py] = [d[1], d[2]];
    return d3.line()([[px, py], [px + 32, py], [px + 41, py + 12.5], [px + 32, py + 25], [px, py + 25]]) + 'Z';
  })
  .attr('fill', d => catColors[d[0]])
  .attr('stroke', '#444').attr('stroke-width', 1);
legend.selectAll('text').data(legendItems).join('text')
  .attr('x', d => d[3]).attr('y', d => d[4])
  .attr('font-size', 22.5)
  .text(d => catNames[d[0]]);

// identity colour bar
const grad = svg.append('defs').append('linearGradient').attr('id', 'identity')
  .attr('x1', 0).attr('y1', 0).attr('x2', 0).attr('y2', 1);
grad.append('stop').attr('offset', 0).attr('stop-color', shadeEnds[1]);
grad.append('stop').attr('offset', 1).attr('stop-color', shadeEnds[0]);
svg.append('rect').attr('x', 1327).attr('y', 1069).attr('width', 23).attr('height', 145).attr('fill', 'url(#identity)');
svg.append('text').attr('x', 1357).attr('y', 1082).attr('font-size', 19).text('100%');
svg.append('text').attr('x', 1357).attr('y', 1217).attr('font-size', 19).text('22%');
</script>
</body>
</html>
